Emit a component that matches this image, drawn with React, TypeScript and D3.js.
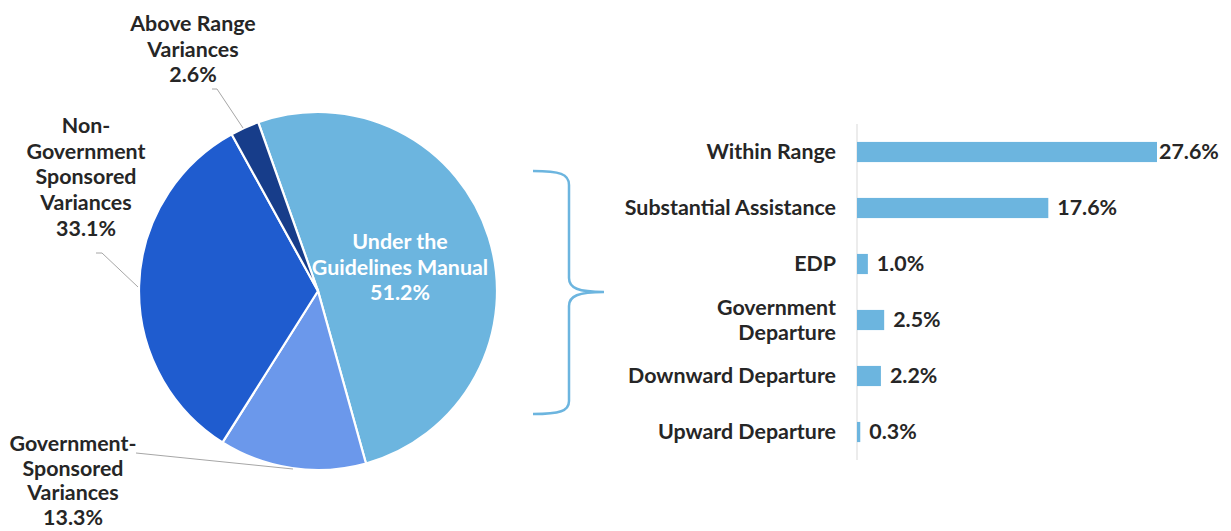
import React from "react";
import * as d3 from "d3";

const pieLabels = ["Under the Guidelines Manual", "Government-Sponsored Variances", "Non-Government Sponsored Variances", "Above Range Variances"];
const pieValues = [51.2, 13.3, 33.1, 2.6];
const pieColors = ["#6cb5df", "#6b98eb", "#1f5ccf", "#173d8a"];

const barCategories = ["Within Range", "Substantial Assistance", "EDP", "Government Departure", "Downward Departure", "Upward Departure"];
const barValues = [27.6, 17.6, 1.0, 2.5, 2.2, 0.3];

const W = 1231, H = 531;
const FONT = "Lato, 'Noto Sans', sans-serif";
const TXT = "#262626";
const FS = 21.4;
const LH = 25.7;

export default function App() {
  const cx = 318, cy = 291, R = 179;
  const startAngle = -19.5 * Math.PI / 180;
  const pie = d3.pie<number>().sort(null).startAngle(startAngle).endAngle(startAngle + 2 * Math.PI);
  const arcs = pie(pieValues);
  const arc = d3.arc<d3.PieArcDatum<number>>().innerRadius(0).outerRadius(R);

  const x = d3.scaleLinear().domain([0, 27.6]).range([857, 1157]);
  const y = d3.scaleBand().domain(barCategories).range([124, 460]).paddingInner(0.64).paddingOuter(0.32);

  const outerLabel = (lines: string[], lx: number, ly: number, lh: number = LH) => (
    <text x={lx} y={ly} textAnchor="middle" fontFamily={FONT} fontWeight={700} fontSize={FS} fill={TXT}>
      {lines.map((l, i) => <tspan key={i} x={lx} dy={i === 0 ? 0 : lh}>{l}</tspan>)}
    </text>
  );

  const braceColor = "#6cb5df";
  const brace = "M533,171 C560,171 569,174 569,185 L569,278 C569,288 578,292 604,292 C578,292 569,296 569,306 L569,401 C569,411 560,414 533,414";

  return (
    <svg width={W} height={H} style={{ position: "absolute", left: 0, top: 0, background: "#fff" }}>
      <g>
        {arcs.map((a, i) => (
          <path key={i} d={arc(a) || ""} transform={`translate(${cx},${cy})`} fill={pieColors[i]} stroke="#fff" strokeWidth={2.2} />
        ))}
      </g>
      {/* leader lines */}
      <polyline points="212,89 217,89 243,128" fill="none" stroke="#a6a6a6" strokeWidth={1} />
      <polyline points="96,253 102,253 138,287" fill="none" stroke="#a6a6a6" strokeWidth={1} />
      <polyline points="136,453 293,469" fill="none" stroke="#a6a6a6" strokeWidth={1} />

      {outerLabel(["Above Range", "Variances", `${pieValues[3].toFixed(1)}%`], 193, 31)}
      {outerLabel(["Non-", "Government", "Sponsored", "Variances", `${pieValues[2].toFixed(1)}%`], 86, 133)}
      {outerLabel(["Government-", "Sponsored", "Variances", `${pieValues[1].toFixed(1)}%`], 73, 451, 24.6)}
      <text x={400} y={249} textAnchor="middle" fontFamily={FONT} fontWeight={700} fontSize={FS} fill="#fff">
        <tspan x={400} dy={0}>Under the</tspan>
        <tspan x={400} dy={LH}>Guidelines Manual</tspan>
        <tspan x={400} dy={LH}>{`${pieValues[0].toFixed(1)}%`}</tspan>
      </text>

      <path d={brace} fill="none" stroke={braceColor} strokeWidth={2.5} />

      {/* bar chart */}
      <line x1={857} x2={857} y1={124} y2={460} stroke="#d9d9d9" strokeWidth={1} />
      {barCategories.map((c, i) => {
        const by = y(c)!;
        const bh = y.bandwidth();
        const xe = x(barValues[i]);
        const mid = by + bh / 2;
        const lines = c === "Government Departure" ? ["Government", "Departure"] : [c];
        return (
          <g key={c}>
            <rect x={x(0)} y={by} width={xe - x(0)} height={bh} fill="#6cb5df" />
            <text x={Math.min(xe + 9, 1159)} y={mid} dy="0.35em" fontFamily={FONT} fontWeight={700} fontSize={FS} fill={TXT}>
              {`${barValues[i].toFixed(1)}%`}
            </text>
            <text x={836} y={mid - (lines.length - 1) * 12.8} textAnchor="end" fontFamily={FONT} fontWeight={700} fontSize={FS} fill={TXT}>
              {lines.map((l, k) => (
                <tspan key={k} x={836} dy={k === 0 ? "0.35em" : LH}>{l}</tspan>
              ))}
            </text>
          </g>
        );
      })}
    </svg>
  );
}
